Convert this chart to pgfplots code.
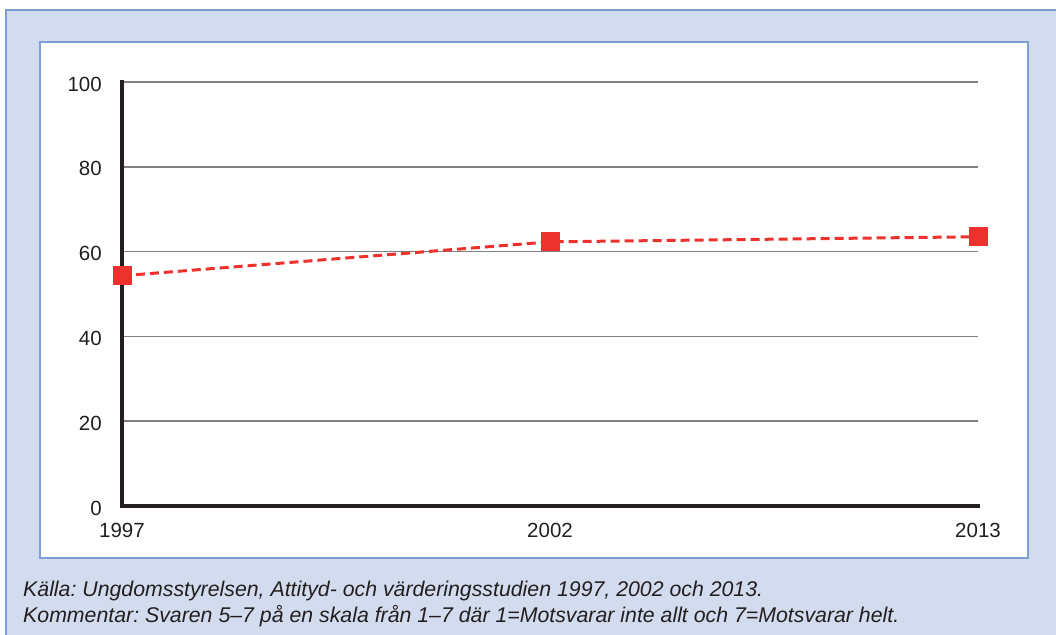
\documentclass[border=0pt]{standalone}
\usepackage{fontspec}
\setmainfont{Liberation Sans}
\usepackage{pgfplots}
\pgfplotsset{compat=1.18}
\definecolor{bgblue}{RGB}{211,220,238}
\definecolor{bdblue}{RGB}{125,158,208}
\definecolor{lred}{RGB}{237,50,45}
\definecolor{axblack}{RGB}{35,31,32}
\definecolor{gridgray}{RGB}{128,128,128}
\frenchspacing
\begin{document}
\begin{tikzpicture}[x=1pt,y=1pt]
\useasboundingbox (0,0) rectangle (1056,634);
\begin{scope}
\clip (0,0) rectangle (1056,634);
\fill[white] (0,0) rectangle (1056,634);
\draw[bdblue, line width=1.2pt, fill=bgblue] (6,624) rectangle (1080,-20);
\draw[bdblue, line width=1.2pt, fill=white] (40,76) rectangle (1028,592);
\end{scope}
\begin{axis}[
  at={(122pt,128pt)}, anchor=origin,
  scale only axis, width=856pt, height=424pt,
  xmin=0, xmax=2, ymin=0, ymax=100,
  xtick={0,1,2}, xticklabels={1997,2002,2013},
  ytick={0,20,40,60,80,100},
  ymajorgrids, grid style={gridgray, line width=1.5pt},
  axis x line*=bottom, axis y line*=left,
  axis line style={axblack, line width=4pt, line cap=rect, -},
  major tick length=0pt,
  tick style={draw=none},
  /pgf/number format/assume math mode=true,
  ticklabel style={font=\fontsize{20.5}{24}\selectfont, text=axblack},
  yticklabel style={inner sep=0pt, anchor=east, xshift=-20pt, yshift=-2pt},
  xticklabel style={inner sep=0pt, anchor=north, yshift=-17pt},
  clip=false,
]
\addplot[lred, line width=3pt, dash pattern=on 9pt off 5pt,
  mark=square*, mark size=8pt, mark options={solid, fill=lred, draw=none}]
  coordinates {(0,54.3) (1,62.3) (2,63.5)};
\end{axis}
\node[anchor=base west, inner sep=0pt, font=\fontsize{21.3}{24}\selectfont\itshape, text=axblack] at (23,38) {Källa: Ungdomsstyrelsen, Attityd- och värderingsstudien 1997, 2002 och 2013.};
\node[anchor=base west, inner sep=0pt, font=\fontsize{21.3}{24}\selectfont\itshape, text=axblack] at (23,12) {Kommentar: Svaren 5–7 på en skala från 1–7 där 1=Motsvarar inte allt och 7=Motsvarar helt.};
\end{tikzpicture}
\end{document}
